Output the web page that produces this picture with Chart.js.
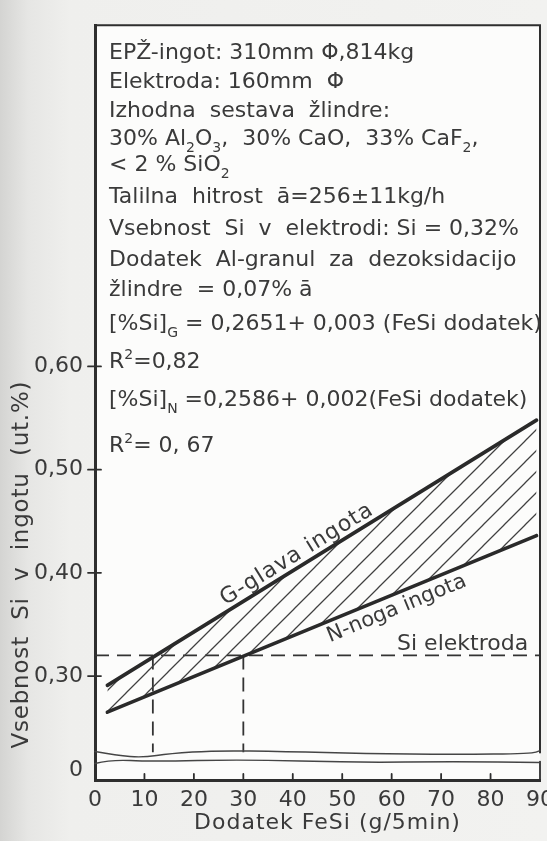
<!DOCTYPE html>
<html>
<head>
<meta charset="utf-8">
<script src="https://cdn.jsdelivr.net/npm/chart.js@4.4.1/dist/chart.umd.min.js"></script>
<style>
  html, body { margin: 0; padding: 0; }
  body {
    width: 547px; height: 841px; overflow: hidden;
    background: linear-gradient(to right, #d4d4d2 0px, #e6e6e4 28px, #efefed 70px, #f2f2f0 100%);
  }
  #wrap { position: relative; width: 547px; height: 841px; }
</style>
</head>
<body>
<div id="wrap"><canvas id="c" width="547" height="841"></canvas></div>
<script>
// FeSi addition (g/5min) at the two ends of the fitted lines
const fesiEnds = [2.5, 89.3];
// Si in the ingot head (G) and foot (N), ut.%
const siHead = [0.291, 0.548];
const siFoot = [0.265, 0.436];
// Si content of the electrode, ut.%
const siElectrode = 0.32;
// FeSi additions where head and foot reach the electrode level
const crossFeSi = [11.7, 30];
// Visible span of the upper (broken) value range
const yFloor = 0.2259;
const yCeil = 0.9306;

const xTicks = [0, 10, 20, 30, 40, 50, 60, 70, 80, 90];
const yTicks = [0.30, 0.40, 0.50, 0.60];
const yZeroTicks = [0];

const xTitle = 'Dodatek FeSi (g/5min)';
const yTitle = 'Vsebnost  Si  v  ingotu  (ut.%)';

// Process notes written in the plot; {sub}/{sup} mark lowered / raised parts
const notes = [
  ['EPŽ-ingot: 310mm Φ,814kg'],
  ['Elektroda: 160mm  Φ'],
  ['Izhodna  sestava  žlindre:'],
  ['30% Al', {sub: '2'}, 'O', {sub: '3'}, ',  30% CaO,  33% CaF', {sub: '2'}, ','],
  ['< 2 % SiO', {sub: '2'}],
  ['Talilna  hitrost  ā=256±11kg/h'],
  ['Vsebnost  Si  v  elektrodi: Si = 0,32%'],
  ['Dodatek  Al-granul  za  dezoksidacijo'],
  ['žlindre  = 0,07% ā'],
  ['[%Si]', {sub: 'G'}, ' = 0,2651+ 0,003 (FeSi dodatek)'],
  ['R', {sup: '2'}, '=0,82'],
  ['[%Si]', {sub: 'N'}, ' =0,2586+ 0,002(FeSi dodatek)'],
  ['R', {sup: '2'}, '= 0, 67']
];
const noteBaselines = [59, 88, 117, 145, 171, 203, 235, 266, 296, 330, 368, 406, 452];

const headLabel = 'G-glava ingota';
const footLabel = 'N-noga ingota';
const electrodeLabel = 'Si elektroda';

const FONT = '"DejaVu Sans", "Liberation Sans", sans-serif';
const INK = '#2e2e2e';
const TEXT = '#3a3a3a';

function hatchPattern() {
  const s = 21;
  const c = document.createElement('canvas');
  c.width = s; c.height = s;
  const g = c.getContext('2d');
  g.strokeStyle = '#404040';
  g.lineWidth = 1.25;
  g.beginPath();
  g.moveTo(-2, s + 2); g.lineTo(s + 2, -2);
  g.moveTo(-2, 2); g.lineTo(2, -2);
  g.moveTo(s - 2, s + 2); g.lineTo(s + 2, s - 2);
  g.stroke();
  return g.createPattern(c, 'repeat');
}

function pts(xs, ys) { return xs.map((x, i) => ({x, y: ys[i]})); }

function drawRich(ctx, x, y, segs, size) {
  let cx = x;
  for (const s of segs) {
    let t = s, dy = 0, fs = size;
    if (typeof s === 'object') {
      if (s.sub !== undefined) { t = s.sub; dy = size * 0.3; fs = Math.round(size * 0.64); }
      else { t = s.sup; dy = -size * 0.42; fs = Math.round(size * 0.64); }
    }
    ctx.font = fs + 'px ' + FONT;
    ctx.fillText(t, cx, y + dy);
    cx += ctx.measureText(t).width;
  }
}

function smoothPath(ctx, p) {
  ctx.beginPath();
  ctx.moveTo(p[0][0], p[0][1]);
  for (let i = 1; i < p.length - 1; i++) {
    const mx = (p[i][0] + p[i + 1][0]) / 2, my = (p[i][1] + p[i + 1][1]) / 2;
    ctx.quadraticCurveTo(p[i][0], p[i][1], mx, my);
  }
  ctx.lineTo(p[p.length - 1][0], p[p.length - 1][1]);
  ctx.stroke();
}

function rotatedLabel(ctx, text, xs, ys, xAt, offset, baseline, size, spacing, sx, sy) {
  const p0x = sx.getPixelForValue(xs[0]), p0y = sy.getPixelForValue(ys[0]);
  const p1x = sx.getPixelForValue(xs[1]), p1y = sy.getPixelForValue(ys[1]);
  const ang = Math.atan2(p1y - p0y, p1x - p0x);
  const t = (xAt - xs[0]) / (xs[1] - xs[0]);
  const ax = p0x + (p1x - p0x) * t, ay = p0y + (p1y - p0y) * t;
  ctx.save();
  ctx.translate(ax, ay);
  ctx.rotate(ang);
  ctx.font = size + 'px ' + FONT;
  ctx.letterSpacing = spacing + 'px';
  ctx.fillStyle = TEXT;
  ctx.textAlign = 'left';
  ctx.textBaseline = baseline;
  ctx.fillText(text, 0, offset);
  ctx.restore();
}

const sheet = {
  id: 'sheet',
  beforeDraw(chart) {
    const {ctx, chartArea: a} = chart;
    ctx.save();
    ctx.fillStyle = '#fcfcfb';
    ctx.fillRect(a.left, a.top, a.right - a.left, a.bottom - a.top);
    ctx.restore();
  },
  afterDraw(chart) {
    const {ctx, chartArea: a, scales} = chart;
    const sx = scales.x, sy = scales.y;
    ctx.save();
    ctx.strokeStyle = INK;
    ctx.lineCap = 'round';

    // frame: top and right edges
    ctx.lineWidth = 2;
    ctx.beginPath();
    ctx.moveTo(a.left, a.top); ctx.lineTo(a.right, a.top);
    ctx.lineTo(a.right, sy.bottom);
    ctx.stroke();
    ctx.lineWidth = 1.8;
    ctx.beginPath();
    ctx.moveTo(a.right, sy.bottom + 9); ctx.lineTo(a.right, a.bottom);
    ctx.stroke();

    // axis break between the value range and zero
    ctx.lineWidth = 1.4;
    ctx.strokeStyle = '#454545';
    const b = sy.bottom;
    smoothPath(ctx, [[a.left, b - 1], [a.left + 22, b + 3], [a.left + 48, b + 5], [a.left + 75, b + 1],
      [a.left + 120, b - 2], [a.left + 190, b - 1], [a.left + 270, b + 1], [a.left + 360, b + 2],
      [a.right - 8, b + 1], [a.right, b - 2]]);
    smoothPath(ctx, [[a.left, b + 11], [a.left + 16, b + 7], [a.left + 55, b + 9], [a.left + 150, b + 7],
      [a.left + 260, b + 10], [a.left + 360, b + 9], [a.right, b + 10]]);

    // tick marks: crossing marks on the value axis, inward marks on the FeSi axis
    ctx.strokeStyle = INK;
    ctx.lineWidth = 1.8;
    ctx.beginPath();
    sy.ticks.forEach((t, i) => {
      const py = sy.getPixelForTick(i);
      ctx.moveTo(a.left - 7, py); ctx.lineTo(a.left + 6, py);
    });
    sx.ticks.forEach((t, i) => {
      if (t.value <= sx.min || t.value >= sx.max) return;
      const px = sx.getPixelForTick(i);
      ctx.moveTo(px, a.bottom); ctx.lineTo(px, a.bottom - 6);
    });
    ctx.stroke();

    // process notes
    ctx.fillStyle = TEXT;
    ctx.textAlign = 'left';
    ctx.textBaseline = 'alphabetic';
    notes.forEach((segs, i) => drawRich(ctx, a.left + 14, noteBaselines[i], segs, 22));

    // line labels
    rotatedLabel(ctx, headLabel, fesiEnds, siHead, 27, -6, 'alphabetic', 22, 1, sx, sy);
    rotatedLabel(ctx, footLabel, fesiEnds, siFoot, 46, 4, 'top', 21, 0, sx, sy);
    ctx.font = '22px ' + FONT;
    ctx.fillStyle = TEXT;
    ctx.textAlign = 'right';
    ctx.textBaseline = 'alphabetic';
    ctx.fillText(electrodeLabel, sx.getPixelForValue(87.6), sy.getPixelForValue(siElectrode) - 5);

    // axis titles
    ctx.font = '22px ' + FONT;
    ctx.letterSpacing = '1px';
    ctx.textAlign = 'center';
    ctx.textBaseline = 'middle';
    ctx.fillText(xTitle, (a.left + a.right) / 2 + 10, 823);
    ctx.save();
    ctx.font = '23px ' + FONT;
    ctx.letterSpacing = '0.8px';
    ctx.translate(22, sy.bottom - 4);
    ctx.rotate(-Math.PI / 2);
    ctx.textAlign = 'left';
    ctx.fillText(yTitle, 0, 0);
    ctx.restore();

    ctx.restore();
  }
};

const lineStyle = {pointRadius: 0, borderColor: '#2a2a2a', borderWidth: 3.6, borderCapStyle: 'round', tension: 0};
const dashStyle = {pointRadius: 0, borderColor: '#333', borderWidth: 1.8, borderDash: [14, 8], fill: false};
const tickFont = {family: FONT, size: 22};

new Chart(document.getElementById('c'), {
  type: 'line',
  data: {
    datasets: [
      {label: 'G', data: pts(fesiEnds, siHead), fill: false, ...lineStyle},
      {label: 'N', data: pts(fesiEnds, siFoot), fill: '-1', backgroundColor: hatchPattern(), ...lineStyle},
      {label: 'Si elektroda', data: pts([0, 90], [siElectrode, siElectrode]), ...dashStyle},
      {label: 'G = Si', data: pts([crossFeSi[0], crossFeSi[0]], [siElectrode, yFloor]), ...dashStyle},
      {label: 'N = Si', data: pts([crossFeSi[1], crossFeSi[1]], [siElectrode, yFloor]), ...dashStyle}
    ]
  },
  options: {
    responsive: false,
    animation: false,
    devicePixelRatio: 1,
    layout: {padding: {top: 10, right: 7, left: 0, bottom: 0}},
    plugins: {legend: {display: false}, tooltip: {enabled: false}, title: {display: false}},
    scales: {
      x: {
        type: 'linear', position: 'bottom', min: 0, max: 90,
        afterBuildTicks: s => { s.ticks = xTicks.map(v => ({value: v})); },
        afterFit: s => { s.height = 61; s.paddingLeft = 0; s.paddingRight = 0; },
        grid: {display: false, drawTicks: false},
        border: {display: true, width: 3, color: INK},
        ticks: {font: tickFont, color: TEXT, padding: 7, maxRotation: 0, autoSkip: false,
                callback: v => String(v)}
      },
      y: {
        type: 'linear', position: 'left', stack: 'v', stackWeight: 742, weight: 2,
        min: yFloor, max: yCeil,
        afterBuildTicks: s => { s.ticks = yTicks.map(v => ({value: v})); },
        afterFit: s => { s.width = 95; },
        grid: {display: false, drawTicks: false},
        border: {display: true, width: 3, color: INK},
        ticks: {font: tickFont, color: TEXT, padding: 12,
                callback: v => v.toFixed(2).replace('.', ',')}
      },
      y0: {
        type: 'linear', position: 'left', stack: 'v', stackWeight: 28, weight: 1,
        min: -1, max: 1.8,
        afterBuildTicks: s => { s.ticks = yZeroTicks.map(v => ({value: v})); },
        afterFit: s => { s.width = 95; },
        grid: {display: false, drawTicks: false},
        border: {display: true, width: 3, color: INK},
        ticks: {font: tickFont, color: TEXT, padding: 12, callback: v => String(v)}
      }
    }
  },
  plugins: [sheet]
});
</script>
</body>
</html>
